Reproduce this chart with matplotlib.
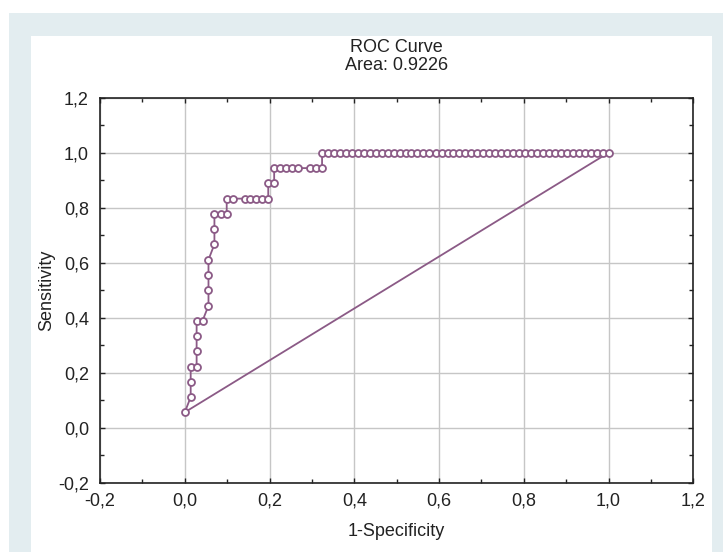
import matplotlib
matplotlib.use("Agg")
import matplotlib.pyplot as plt
from matplotlib.patches import Rectangle
from matplotlib.ticker import MultipleLocator, FuncFormatter

# ---- data ----
one_minus_specificity = [
    0.000, 0.014, 0.014, 0.014, 0.028, 0.028, 0.028, 0.028, 0.042, 0.056,
    0.056, 0.056, 0.056, 0.070, 0.070, 0.070, 0.085, 0.099, 0.099, 0.113,
    0.141, 0.155, 0.169, 0.183, 0.197, 0.197, 0.211, 0.211, 0.225, 0.239,
    0.254, 0.268, 0.296, 0.310, 0.324, 0.324, 0.338, 0.352, 0.366, 0.380,
    0.394, 0.408, 0.423, 0.437, 0.451, 0.465, 0.479, 0.493, 0.507, 0.521,
    0.535, 0.549, 0.563, 0.577, 0.592, 0.606, 0.620, 0.634, 0.648, 0.662,
    0.676, 0.690, 0.704, 0.718, 0.732, 0.746, 0.761, 0.775, 0.789, 0.803,
    0.817, 0.831, 0.845, 0.859, 0.873, 0.887, 0.901, 0.915, 0.930, 0.944,
    0.958, 0.972, 0.986, 1.000,
]
sensitivity = [
    0.056, 0.111, 0.167, 0.222, 0.222, 0.278, 0.333, 0.389, 0.389, 0.444,
    0.500, 0.556, 0.611, 0.667, 0.722, 0.778, 0.778, 0.778, 0.833, 0.833,
    0.833, 0.833, 0.833, 0.833, 0.833, 0.889, 0.889, 0.944, 0.944, 0.944,
    0.944, 0.944, 0.944, 0.944, 0.944, 1.000, 1.000, 1.000, 1.000, 1.000,
    1.000, 1.000, 1.000, 1.000, 1.000, 1.000, 1.000, 1.000, 1.000, 1.000,
    1.000, 1.000, 1.000, 1.000, 1.000, 1.000, 1.000, 1.000, 1.000, 1.000,
    1.000, 1.000, 1.000, 1.000, 1.000, 1.000, 1.000, 1.000, 1.000, 1.000,
    1.000, 1.000, 1.000, 1.000, 1.000, 1.000, 1.000, 1.000, 1.000, 1.000,
    1.000, 1.000, 1.000, 1.000,
]
ref_x = [0.000, 1.000]
ref_y = [0.056, 1.000]

title_text = "ROC Curve"
area_text = "Area: 0.9226"
x_label = "1-Specificity"
y_label = "Sensitivity"

# ---- figure ----
W, H = 723, 552
DPI = 100
plt.rcParams['font.family'] = ['Liberation Sans', 'DejaVu Sans']
fig = plt.figure(figsize=(W / DPI, H / DPI), dpi=DPI, facecolor='white')

def px_rect(x0, y0, x1, y1, color):
    # pixel coords with origin top-left
    fig.patches.append(Rectangle((x0 / W, 1 - y1 / H), (x1 - x0) / W, (y1 - y0) / H,
                                 transform=fig.transFigure, facecolor=color,
                                 edgecolor='none', zorder=-10))

px_rect(9, 13, 730, 560, '#e3edf0')
px_rect(31, 36, 712, 560, 'white')

ax_l, ax_r, ax_t, ax_b = 100, 693.3, 97.7, 482.7
ax = fig.add_axes([ax_l / W, 1 - ax_b / H, (ax_r - ax_l) / W, (ax_b - ax_t) / H])
ax.set_facecolor('white')

col = '#8b5a86'
ax.plot(ref_x, ref_y, color=col, lw=1.3, zorder=3)
ax.plot(one_minus_specificity, sensitivity, color=col, lw=1.3, marker='o',
        ms=5.0, mfc='white', mec=col, mew=1.3, zorder=4)

ax.set_xlim(-0.2, 1.2)
ax.set_ylim(-0.2, 1.2)
fmt = FuncFormatter(lambda v, p: f"{v:.1f}".replace('.', ',').replace('-0,0', '0,0'))
for a in (ax.xaxis, ax.yaxis):
    a.set_major_locator(MultipleLocator(0.2))
    a.set_minor_locator(MultipleLocator(0.1))
    a.set_major_formatter(fmt)
ax.grid(True, which='major', color='#c6c6c6', lw=1.0, zorder=0)
ax.set_axisbelow(True)
ax.tick_params(which='both', direction='in', top=True, right=True,
               color='#222222', width=1.0, labelsize=13, labelcolor='#222222')
ax.tick_params(which='major', length=3.5)
ax.tick_params(which='minor', length=3.0)
ax.tick_params(axis='x', pad=7)
ax.tick_params(axis='y', pad=8)
for s in ax.spines.values():
    s.set_color('#222222')
    s.set_linewidth(1.2)

fig.text((ax_l + ax_r) / 2 / W, 1 - 47 / H, title_text, ha='center', va='center',
         fontsize=13, color='#222222')
fig.text((ax_l + ax_r) / 2 / W, 1 - 66 / H, area_text, ha='center', va='center',
         fontsize=13, color='#222222')
fig.text((ax_l + ax_r) / 2 / W, 1 - 531 / H, x_label, ha='center', va='center',
         fontsize=13, color='#222222')
fig.text(47 / W, 1 - 290 / H, y_label, ha='center', va='center', rotation=90,
         fontsize=13, color='#222222')

fig.savefig('out.png', dpi=DPI, facecolor='white')
